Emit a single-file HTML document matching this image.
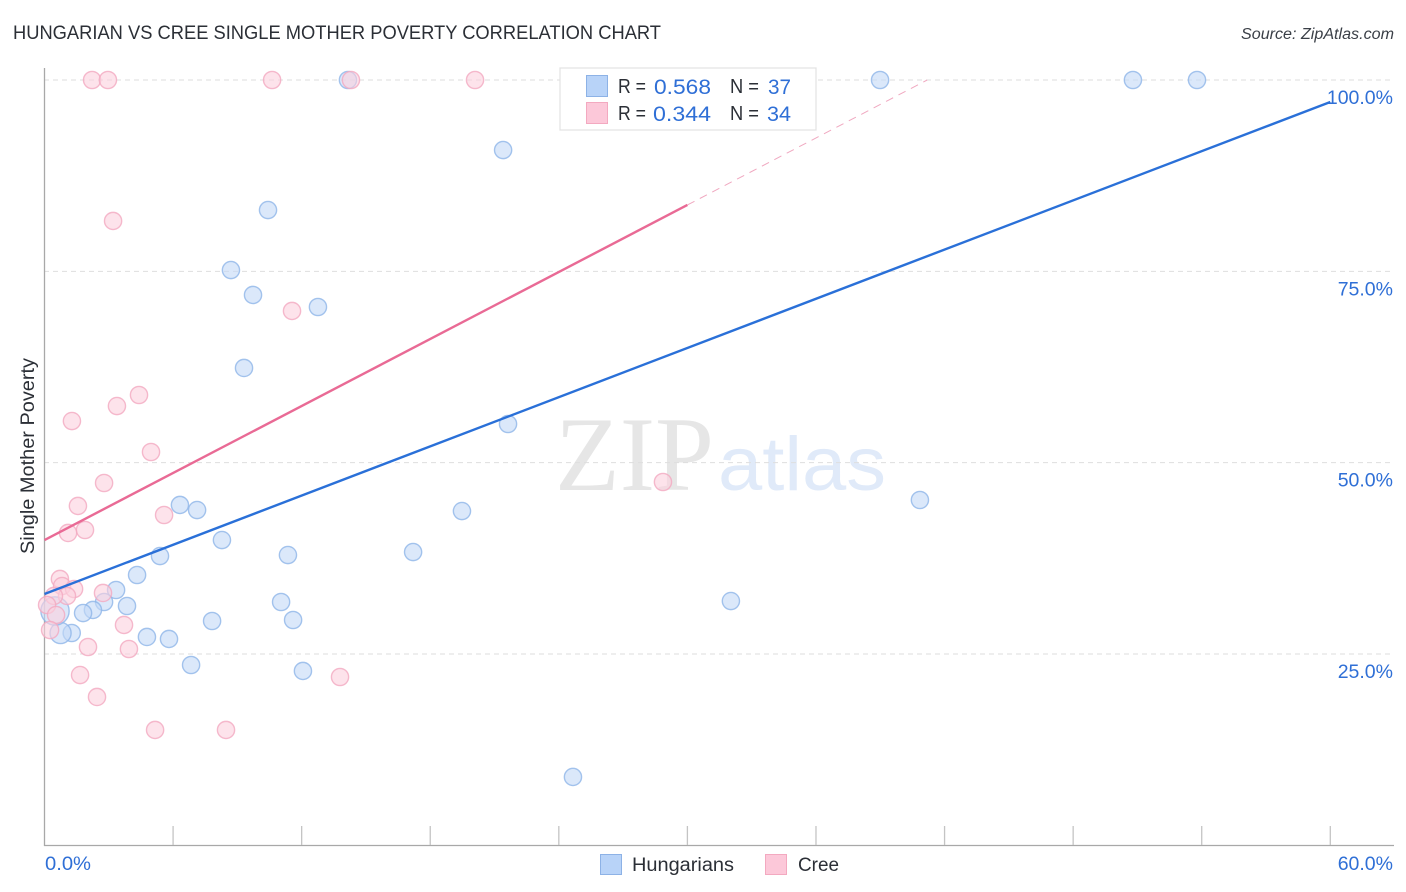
<!DOCTYPE html>
<html lang="en">
<head>
<meta charset="utf-8">
<title>Hungarian vs Cree Single Mother Poverty Correlation Chart</title>
<style>
html,body{margin:0;padding:0;background:#fff;width:1406px;height:892px;overflow:hidden}
svg{display:block;font-family:"Liberation Sans",sans-serif}
</style>
</head>
<body>
<svg id="chart" xmlns="http://www.w3.org/2000/svg" width="1406" height="892" viewBox="0 0 1406 892">
  <text x="13" y="39" font-size="19" fill="#2b2f36" textLength="648" lengthAdjust="spacingAndGlyphs">HUNGARIAN VS CREE SINGLE MOTHER POVERTY CORRELATION CHART</text>
  <text x="1241" y="39" font-size="15.5" font-style="italic" fill="#3a3f47" textLength="153" lengthAdjust="spacingAndGlyphs">Source: ZipAtlas.com</text>
  <g>
    <text x="555" y="490" font-family="'Liberation Serif', serif" font-size="106" fill="#e6e6e6" textLength="159" lengthAdjust="spacingAndGlyphs">ZIP</text>
    <text x="718" y="490" font-family="'Liberation Sans', sans-serif" font-size="76" fill="#e0eaf9" textLength="168" lengthAdjust="spacingAndGlyphs">atlas</text>
  </g>
  <g id="grid"></g>
  <g id="axes"></g>
  <g id="points"></g>
  <g id="trends"></g>
  <g id="labels"></g>
  <text transform="translate(34,554) rotate(-90)" font-size="19.5" fill="#2b2f36" textLength="196" lengthAdjust="spacingAndGlyphs">Single Mother Poverty</text>

  <g>
    <rect x="560" y="68" width="256" height="62" fill="#fff" stroke="#e2e2e2" stroke-width="1.2"/>
    <rect x="586.5" y="75.5" width="21" height="21" fill="#b8d3f8" stroke="#8db2e6" stroke-width="1"/>
    <rect x="586.5" y="102.5" width="21" height="21" fill="#fcc8d9" stroke="#f3a9c0" stroke-width="1"/>
    <text x="618" y="93" font-size="20" fill="#2b2f36" textLength="28" lengthAdjust="spacingAndGlyphs">R =</text>
    <text x="654" y="94" font-size="21" fill="#2f6fd6" textLength="57" lengthAdjust="spacingAndGlyphs">0.568</text>
    <text x="730" y="93" font-size="20" fill="#2b2f36" textLength="29" lengthAdjust="spacingAndGlyphs">N =</text>
    <text x="768" y="94" font-size="21" fill="#2f6fd6" textLength="23" lengthAdjust="spacingAndGlyphs">37</text>
    <text x="618" y="120" font-size="20" fill="#2b2f36" textLength="28" lengthAdjust="spacingAndGlyphs">R =</text>
    <text x="653" y="121" font-size="21" fill="#2f6fd6" textLength="58" lengthAdjust="spacingAndGlyphs">0.344</text>
    <text x="730" y="120" font-size="20" fill="#2b2f36" textLength="29" lengthAdjust="spacingAndGlyphs">N =</text>
    <text x="767" y="121" font-size="21" fill="#2f6fd6" textLength="24" lengthAdjust="spacingAndGlyphs">34</text>
  </g>

  <g>
    <rect x="600.5" y="854.5" width="21" height="20" fill="#b8d3f8" stroke="#8db2e6" stroke-width="1"/>
    <text x="632" y="871" font-size="19" fill="#2b2f36" textLength="102" lengthAdjust="spacingAndGlyphs">Hungarians</text>
    <rect x="765.5" y="854.5" width="21" height="20" fill="#fcc8d9" stroke="#f3a9c0" stroke-width="1"/>
    <text x="798" y="871" font-size="19" fill="#2b2f36" textLength="41" lengthAdjust="spacingAndGlyphs">Cree</text>
  </g>
</svg>
<script>
const hungarianX = [14.16,21.40,10.43,8.70,9.73,12.76,9.31,21.63,6.32,7.12,19.48,8.28,40.85,5.39,11.36,17.20,4.32,3.34,2.78,2.26,1.80,3.85,11.04,11.60,7.82,4.78,5.81,1.27,6.84,12.06,32.03,24.66,38.99,50.79,53.78,0.75,0.49];
const hungarianY = [100,90.85,83.01,75.17,71.91,70.34,62.37,55.05,44.47,43.81,43.68,39.89,45.12,37.80,37.93,38.32,35.32,33.36,31.79,30.75,30.35,31.27,31.79,29.44,29.31,27.22,26.96,27.74,23.56,22.78,31.92,8.93,100,100,100,27.74,30.62];
const hungarianWeight = [1,1,1,1,1,1,1,1,1,1,1,1,1,1,1,1,1,1,1,1,1,1,1,1,1,1,1,1,1,1,1,1,1,1,1,1.5,2.7];
const creeX = [2.22,2.96,10.62,14.30,20.09,3.20,11.55,4.41,3.38,1.28,4.97,2.78,1.56,5.58,1.89,1.10,28.86,0.72,0.82,1.38,2.73,1.05,0.44,0.12,0.54,3.71,0.26,2.03,3.94,1.66,2.45,5.16,8.47,13.79];
const creeY = [100,100,100,100,100,81.58,69.82,58.84,57.40,55.44,51.39,47.34,44.34,43.16,41.20,40.81,47.47,34.80,33.88,33.49,32.97,32.58,32.58,31.40,30.09,28.79,28.13,25.91,25.65,22.25,19.38,15.07,15.07,21.99];
const hungarianTrend = [32.84, 97.13];
const creeTrend = [39.89, 83.67];
const creeTrendEnd = 100;
const yTicks = [25, 50, 75, 100];
const yTickLabels = ["25.0%", "50.0%", "75.0%", "100.0%"];
const xTicks = [0, 6, 12, 18, 24, 30, 36, 42, 48, 54, 60];
const xEndLabels = ["0.0%", "60.0%"];

const NS = 'http://www.w3.org/2000/svg';
function xScale(v){ return 44.5 + v * 21.43; }
function yScale(v){ return 80 + (100 - v) * 7.653; }
function make(tag, attrs, parent){
  const el = document.createElementNS(NS, tag);
  for (const k in attrs) el.setAttribute(k, attrs[k]);
  parent.appendChild(el);
  return el;
}
const grid = document.getElementById('grid');
const axes = document.getElementById('axes');
const trends = document.getElementById('trends');
const points = document.getElementById('points');
const labels = document.getElementById('labels');

yTicks.forEach(function(t){
  const line = make('line', {x1:44, x2:1394, y1:yScale(t), y2:yScale(t), stroke:'#dedede', 'stroke-width':1, 'stroke-dasharray':'5 4'}, grid);
  
  
});

const yAxis = make('line', {x1:44.5, x2:44.5, y1:68, y2:846, stroke:'#a8a8a8', 'stroke-width':1.3}, axes);


const xAxis = make('line', {x1:44, x2:1394, y1:845.5, y2:845.5, stroke:'#a8a8a8', 'stroke-width':1.3}, axes);


xTicks.slice(1).forEach(function(t){
  const tick = make('line', {x1:xScale(t), x2:xScale(t), y1:826, y2:845, stroke:'#c4c4c4', 'stroke-width':1.3}, axes);
  
  
});

function drawPoints(xs, ys, weights, fill, stroke, name){
  xs.forEach(function(x, i){
    const w = weights ? weights[i] : 1;
    const c = make('circle', {cx:xScale(x), cy:yScale(ys[i]), r:8.6 * Math.sqrt(w), fill:fill, 'fill-opacity':0.6, stroke:stroke, 'stroke-opacity':0.8, 'stroke-width':1.4}, points);
    
    
  });
}
drawPoints(hungarianX, hungarianY, hungarianWeight, '#c3d9f7', '#8fb5e8', 'hungarian-point');
drawPoints(creeX, creeY, null, '#fbd0de', '#f2a9c0', 'cree-point');

const blueLine = make('line', {x1:xScale(0), y1:yScale(hungarianTrend[0]), x2:xScale(60), y2:yScale(hungarianTrend[1]), stroke:'#2a70d8', 'stroke-width':2.4}, trends);


const pinkLine = make('line', {x1:xScale(0), y1:yScale(creeTrend[0]), x2:xScale(30), y2:yScale(creeTrend[1]), stroke:'#e96a95', 'stroke-width':2.4}, trends);


const slope = (creeTrend[1] - creeTrend[0]) / 30;
const pinkDash = make('line', {x1:xScale(30), y1:yScale(creeTrend[1]), x2:xScale((creeTrendEnd - creeTrend[0]) / slope), y2:yScale(creeTrendEnd), stroke:'#f0a8c0', 'stroke-width':1, 'stroke-dasharray':'8 6'}, trends);



yTicks.forEach(function(t, i){
  const label = make('text', {x:1393, y:yScale(t) + 24, 'font-size':19.5, fill:'#2f6fd6', 'text-anchor':'end'}, labels);
  
  
  label.textContent = yTickLabels[i];
});
const xLabelStart = make('text', {x:45, y:870, 'font-size':19.5, fill:'#2f6fd6', textLength:46, lengthAdjust:'spacingAndGlyphs'}, labels);


xLabelStart.textContent = xEndLabels[0];
const xLabelEnd = make('text', {x:1393, y:870, 'font-size':19.5, fill:'#2f6fd6', 'text-anchor':'end'}, labels);


xLabelEnd.textContent = xEndLabels[1];
</script>
</body>
</html>
